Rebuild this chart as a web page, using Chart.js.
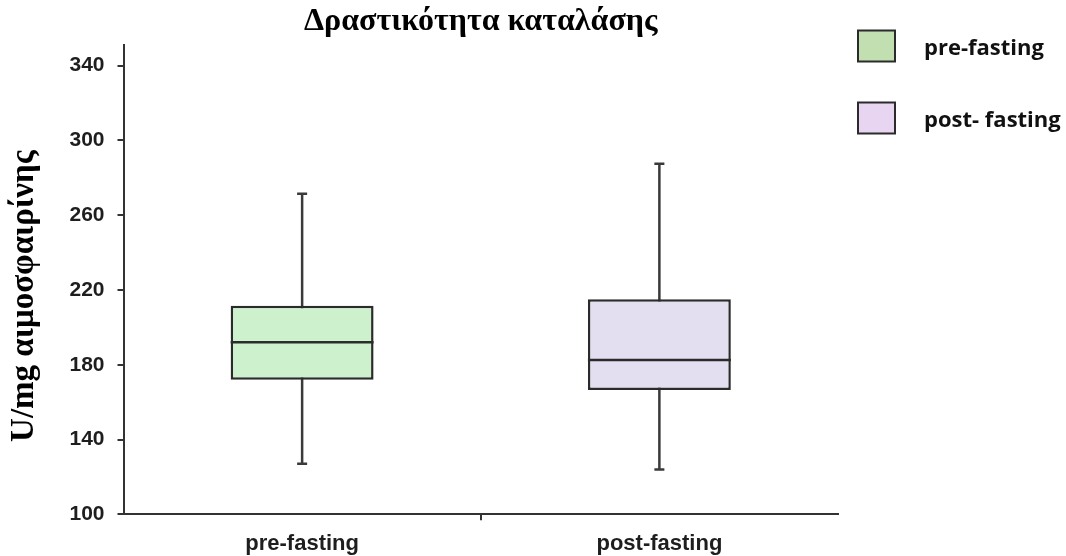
<!DOCTYPE html>
<html>
<head>
<meta charset="utf-8">
<title>Δραστικότητα καταλάσης</title>
<script src="https://cdn.jsdelivr.net/npm/chart.js@4.4.1/dist/chart.umd.min.js"></script>
<style>
  html, body { margin: 0; padding: 0; background: #ffffff; }
  #wrap { width: 1066px; height: 556px; }
</style>
</head>
<body>
<div id="wrap"><canvas id="chart" width="1066" height="556"></canvas></div>
<script>
// Catalase activity before and after fasting (box plot)
const categories   = ['pre-fasting', 'post-fasting'];
const legendLabels = ['pre-fasting', 'post- fasting'];
const whiskerLow   = [127, 124];
const q1           = [172, 166.5];
const median       = [192, 182.5];
const q3           = [211.5, 215];
const whiskerHigh  = [271.5, 287.5];
const yTicks       = [100, 140, 180, 220, 260, 300, 340];
const yTitle       = 'U/mg αιμοσφαιρίνης';

const boxFill    = ['#cdf1cd', '#e4dff0'];
const legendFill = ['#c2dfb2', '#e8d5f2'];
const inkColor   = '#2b2b2b';

// Whiskers (behind the boxes) and median lines (on top of them)
const boxPlotParts = {
  id: 'boxPlotParts',
  beforeDatasetsDraw(chart) {
    const { ctx, scales: { x, y } } = chart;
    ctx.save();
    ctx.strokeStyle = '#3a3a3a';
    ctx.lineWidth = 2.5;
    categories.forEach((c, i) => {
      const cx = x.getPixelForValue(i);
      const yl = y.getPixelForValue(whiskerLow[i]);
      const yh = y.getPixelForValue(whiskerHigh[i]);
      ctx.beginPath();
      ctx.moveTo(cx, yl); ctx.lineTo(cx, yh);
      ctx.moveTo(cx - 5, yl); ctx.lineTo(cx + 5, yl);
      ctx.moveTo(cx - 5, yh); ctx.lineTo(cx + 5, yh);
      ctx.stroke();
    });
    ctx.restore();
  },
  afterDatasetsDraw(chart) {
    const { ctx, scales: { y } } = chart;
    const bars = chart.getDatasetMeta(0).data;
    ctx.save();
    ctx.strokeStyle = inkColor;
    ctx.lineWidth = 2.5;
    bars.forEach((bar, i) => {
      const ym = y.getPixelForValue(median[i]);
      ctx.beginPath();
      ctx.moveTo(bar.x - bar.width / 2, ym);
      ctx.lineTo(bar.x + bar.width / 2, ym);
      ctx.stroke();
    });
    ctx.restore();
  }
};

// Rotated y-axis caption, set a little below the middle of the axis
const axisCaption = {
  id: 'axisCaption',
  afterDraw(chart) {
    const { ctx, chartArea } = chart;
    ctx.save();
    ctx.translate(24, (chartArea.top + chartArea.bottom) / 2 + 16.5);
    ctx.rotate(-Math.PI / 2);
    ctx.fillStyle = '#000000';
    ctx.font = 'bold 33px "Liberation Serif", "DejaVu Serif", serif';
    ctx.textAlign = 'center';
    ctx.textBaseline = 'middle';
    ctx.fillText(yTitle, 0, 0);
    ctx.restore();
  }
};

// Key with swatches to the right of the plot
const sideLegend = {
  id: 'sideLegend',
  afterDraw(chart) {
    const { ctx } = chart;
    const left = chart.chartArea.right + 20;
    const rows = [46, 118];
    ctx.save();
    legendLabels.forEach((label, i) => {
      const cy = rows[i];
      ctx.fillStyle = legendFill[i];
      ctx.fillRect(left, cy - 15.5, 37, 31);
      ctx.strokeStyle = inkColor;
      ctx.lineWidth = 2;
      ctx.strokeRect(left, cy - 15.5, 37, 31);
      ctx.fillStyle = '#111111';
      ctx.font = 'bold 22px "Open Sans"';
      ctx.textAlign = 'left';
      ctx.textBaseline = 'alphabetic';
      ctx.fillText(label, left + 66, cy + 8.5);
    });
    ctx.restore();
  }
};

new Chart(document.getElementById('chart'), {
  type: 'bar',
  data: {
    labels: categories,
    datasets: [{
      label: 'IQR',
      data: categories.map((c, i) => [q1[i], q3[i]]),
      backgroundColor: boxFill,
      borderColor: inkColor,
      borderWidth: 2.5,
      borderSkipped: false,
      barPercentage: 0.4,
      categoryPercentage: 1
    }]
  },
  options: {
    responsive: false,
    animation: false,
    devicePixelRatio: 1,
    layout: { padding: { left: 0, right: 228, top: 0, bottom: 0 } },
    plugins: {
      legend: { display: false },
      tooltip: { enabled: false },
      title: {
        display: true,
        fullSize: false,
        text: 'Δραστικότητα καταλάσης',
        color: '#000000',
        font: { family: '"Liberation Serif", "DejaVu Serif", serif', weight: 'bold', size: 32 },
        padding: { top: 3, bottom: 3.6 }
      }
    },
    scales: {
      x: {
        type: 'category',
        afterFit(axis) { axis.height = 41.7; },
        grid: {
          offset: true,
          drawOnChartArea: false,
          drawTicks: true,
          tickLength: 6,
          lineWidth: 2,
          color: (ctx) => ctx.index === 1 ? '#333333' : 'rgba(0,0,0,0)'
        },
        border: { display: true, color: '#333333', width: 2 },
        ticks: {
          color: '#1e1e1e',
          padding: 10,
          font: { family: '"Liberation Sans", Arial, sans-serif', weight: 'bold', size: 22 }
        }
      },
      y: {
        min: 100,
        max: 351,
        afterFit(axis) { axis.width = 123.5; },
        afterBuildTicks(axis) { axis.ticks = yTicks.map(v => ({ value: v })); },
        grid: {
          drawOnChartArea: false,
          drawTicks: true,
          tickLength: 6,
          lineWidth: 2,
          color: '#333333'
        },
        border: { display: true, color: '#333333', width: 2 },
        ticks: {
          color: '#1e1e1e',
          padding: 13,
          font: { family: '"Liberation Sans", Arial, sans-serif', weight: 'bold', size: 21 }
        }
      }
    }
  },
  plugins: [boxPlotParts, axisCaption, sideLegend]
});
</script>
</body>
</html>
